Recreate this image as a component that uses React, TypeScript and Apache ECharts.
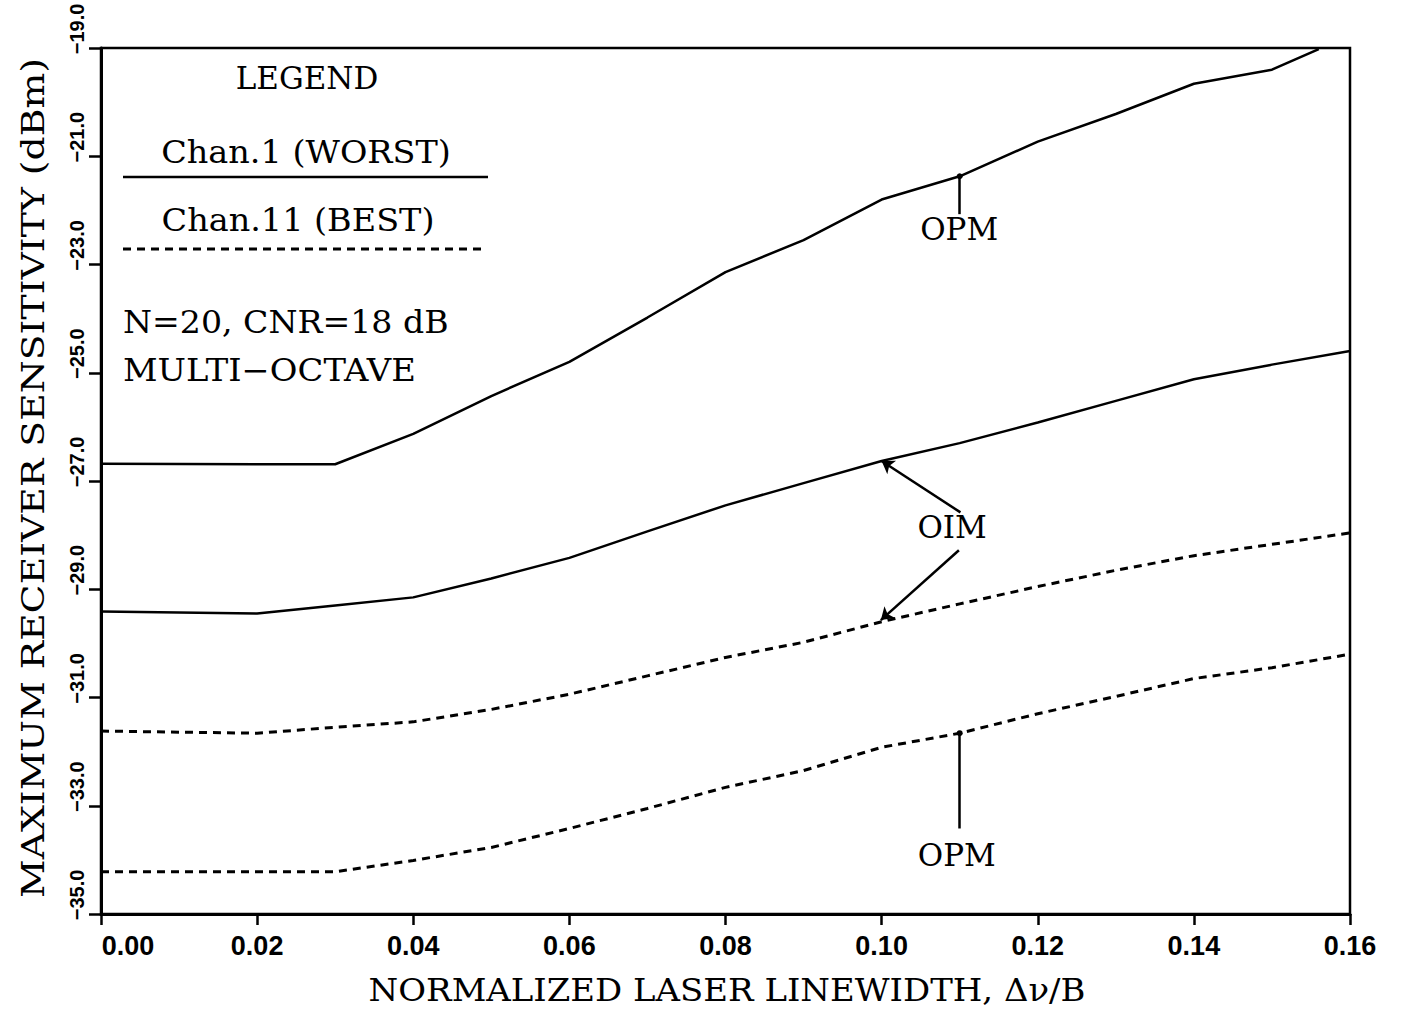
import React, { useEffect, useRef } from "react";
import * as echarts from "echarts";

// ---- data ----
const linewidthX = [0, 0.02, 0.03, 0.04, 0.05, 0.06, 0.07, 0.08, 0.09, 0.1, 0.11, 0.12, 0.13, 0.14, 0.15, 0.16];
const chan1OpmX = [0, 0.02, 0.03, 0.04, 0.05, 0.06, 0.07, 0.08, 0.09, 0.1, 0.11, 0.12, 0.13, 0.14, 0.15, 0.156];
const chan1Opm = [-26.68, -26.69, -26.69, -26.13, -25.43, -24.8, -23.98, -23.14, -22.55, -21.8, -21.37, -20.73, -20.22, -19.66, -19.4, -19.02];
const chan1Oim = [-29.41, -29.45, -29.3, -29.15, -28.8, -28.42, -27.93, -27.45, -27.04, -26.63, -26.3, -25.92, -25.52, -25.12, -24.85, -24.6];
const chan11Oim = [-31.62, -31.66, -31.55, -31.45, -31.22, -30.94, -30.6, -30.26, -29.98, -29.6, -29.27, -28.95, -28.65, -28.38, -28.17, -27.96];
const chan11Opm = [-34.22, -34.22, -34.22, -34.01, -33.77, -33.42, -33.05, -32.66, -32.35, -31.92, -31.66, -31.3, -30.98, -30.65, -30.45, -30.2];

const xTickLabels = ["0.00", "0.02", "0.04", "0.06", "0.08", "0.10", "0.12", "0.14", "0.16"];
const yTickLabels = ["−35.0", "−33.0", "−31.0", "−29.0", "−27.0", "−25.0", "−23.0", "−21.0", "−19.0"];

const annotationNames = ["OPM", "OIM", "OPM"];
const annotationX = [0.11, 0.1091, 0.1097];
const annotationY = [-22.36, -27.85, -33.92];

// leader lines: [fromX, fromY, toX, toY, head]
const leaderLines: [number, number, number, number, string][] = [
  [0.11, -22.07, 0.11, -21.37, "circle"],
  [0.1101, -27.58, 0.1, -26.63, "arrow"],
  [0.1099, -28.28, 0.0999, -29.57, "arrow"],
  [0.11, -33.42, 0.11, -31.66, "circle"],
];

const legendTitle = "LEGEND";
const legendWorst = "Chan.1 (WORST)";
const legendBest = "Chan.11 (BEST)";
const noteLine1 = "N=20, CNR=18 dB";
const noteLine2 = "MULTI−OCTAVE";
const xTitle = "NORMALIZED LASER LINEWIDTH, Δν/B";
const yTitle = "MAXIMUM RECEIVER SENSITIVITY (dBm)";

const zip = (xs: number[], ys: number[]) => xs.map((x, i) => [x, ys[i]]);

const SERIF = "'DejaVu Serif', 'Liberation Serif', serif";
const SANS = "'Liberation Sans', Arial, sans-serif";

export default function App() {
  const ref = useRef<HTMLDivElement>(null);
  useEffect(() => {
    document.body.style.margin = "0";
    const chart = echarts.init(ref.current!, null, { renderer: "svg" });
    const solid = { color: "#000", width: 2.5, type: "solid" as const };
    const dashed = { color: "#000", width: 3, type: [8, 6] as any };
    const xLabelIdx = (v: number) => Math.round(v / 0.02);
    const yLabelIdx = (v: number) => Math.round((v + 35) / 2);
    chart.setOption({
      animation: false,
      backgroundColor: "#fff",
      grid: {
        left: 101,
        right: 53,
        top: 48,
        bottom: 99,
        containLabel: false,
        outerBoundsMode: "none",
        show: true,
        borderColor: "#000",
        borderWidth: 2.5,
        backgroundColor: "transparent",
      },
      xAxis: {
        type: "value",
        min: 0,
        max: 0.16,
        interval: 0.02,
        splitLine: { show: false },
        axisLine: { lineStyle: { color: "#000", width: 3 } },
        axisTick: { length: 11, lineStyle: { color: "#000", width: 2.5 } },
        axisLabel: {
          color: "#000",
          fontFamily: SANS,
          fontWeight: "bold",
          fontSize: 27,
          margin: 18,
          formatter: (v: number) => {
            const i = xLabelIdx(v);
            const t = xTickLabels[i] ?? "";
            return i === 0 ? `{first|${t}}` : t;
          },
          rich: {
            first: {
              fontFamily: SANS,
              fontWeight: "bold",
              fontSize: 27,
              color: "#000",
              padding: [0, 0, 0, 54],
            },
          },
        },
      },
      yAxis: {
        type: "value",
        min: -35,
        max: -19,
        interval: 2,
        splitLine: { show: false },
        axisLine: { lineStyle: { color: "#000", width: 3 } },
        axisTick: { length: 12, lineStyle: { color: "#000", width: 2.5 } },
        axisLabel: {
          color: "#000",
          rotate: 90,
          align: "center",
          verticalAlign: "bottom",
          fontFamily: SANS,
          fontWeight: "bold",
          fontSize: 20,
          margin: 14,
          formatter: (v: number) => `{t|${yTickLabels[yLabelIdx(v)] ?? ""}}`,
          rich: {
            t: {
              fontFamily: SANS,
              fontWeight: "bold",
              fontSize: 20,
              color: "#000",
              padding: [0, 0, 0, 38],
            },
          },
        },
      },
      series: [
        { name: "Chan.1 OPM", type: "line", data: zip(chan1OpmX, chan1Opm), symbol: "none", lineStyle: solid },
        { name: "Chan.1 OIM", type: "line", data: zip(linewidthX, chan1Oim), symbol: "none", lineStyle: solid },
        { name: "Chan.11 OIM", type: "line", data: zip(linewidthX, chan11Oim), symbol: "none", lineStyle: dashed },
        { name: "Chan.11 OPM", type: "line", data: zip(linewidthX, chan11Opm), symbol: "none", lineStyle: dashed },
        {
          name: "annotations",
          type: "scatter",
          symbol: "rect",
          symbolSize: 1,
          itemStyle: { color: "rgba(0,0,0,0)" },
          data: annotationNames.map((n, i) => ({ name: n, value: [annotationX[i], annotationY[i]] })),
          label: {
            show: true,
            position: [0, 0],
            align: "center",
            verticalAlign: "middle",
            formatter: "{b}",
            color: "#000",
            opacity: 1,
            textBorderWidth: 0,
            fontFamily: SERIF,
            fontSize: 31,
          },
          markLine: {
            silent: true,
            animation: false,
            label: { show: false },
            lineStyle: { color: "#000", width: 2.5, type: "solid" },
            data: leaderLines.map(([x1, y1, x2, y2, head]) => [
              { coord: [x1, y1], symbol: "none" },
              { coord: [x2, y2], symbol: head, symbolSize: head === "arrow" ? 12 : 6 },
            ]),
          },
        },
      ],
      graphic: [
        { type: "text", x: 307, y: 78, style: { text: legendTitle, font: `31px ${SERIF}`, fill: "#000", textAlign: "center", textVerticalAlign: "middle" } },
        { type: "text", x: 306, y: 152, scaleX: 1.08, style: { text: legendWorst, font: `31px ${SERIF}`, fill: "#000", textAlign: "center", textVerticalAlign: "middle" } },
        { type: "line", shape: { x1: 123, y1: 177, x2: 488, y2: 177 }, style: { stroke: "#000", lineWidth: 2.5 } },
        { type: "text", x: 298, y: 220, scaleX: 1.08, style: { text: legendBest, font: `31px ${SERIF}`, fill: "#000", textAlign: "center", textVerticalAlign: "middle" } },
        { type: "line", shape: { x1: 123, y1: 249, x2: 483, y2: 249 }, style: { stroke: "#000", lineWidth: 3, lineDash: [8, 6] } },
        { type: "text", x: 123, y: 322, scaleX: 1.07, style: { text: noteLine1, font: `31px ${SERIF}`, fill: "#000", textAlign: "left", textVerticalAlign: "middle" } },
        { type: "text", x: 123, y: 370, scaleX: 1.09, style: { text: noteLine2, font: `31px ${SERIF}`, fill: "#000", textAlign: "left", textVerticalAlign: "middle" } },
        { type: "text", x: 727, y: 990, scaleX: 1.06, style: { text: xTitle, font: `32px ${SERIF}`, fill: "#000", textAlign: "center", textVerticalAlign: "middle" } },
        { type: "text", x: 33, y: 478, rotation: Math.PI / 2, scaleX: 1.18, style: { text: yTitle, font: `32px ${SERIF}`, fill: "#000", textAlign: "center", textVerticalAlign: "middle" } },
      ],
    });
    return () => chart.dispose();
  }, []);
  return <div ref={ref} style={{ width: 1403, height: 1013 }} />;
}
